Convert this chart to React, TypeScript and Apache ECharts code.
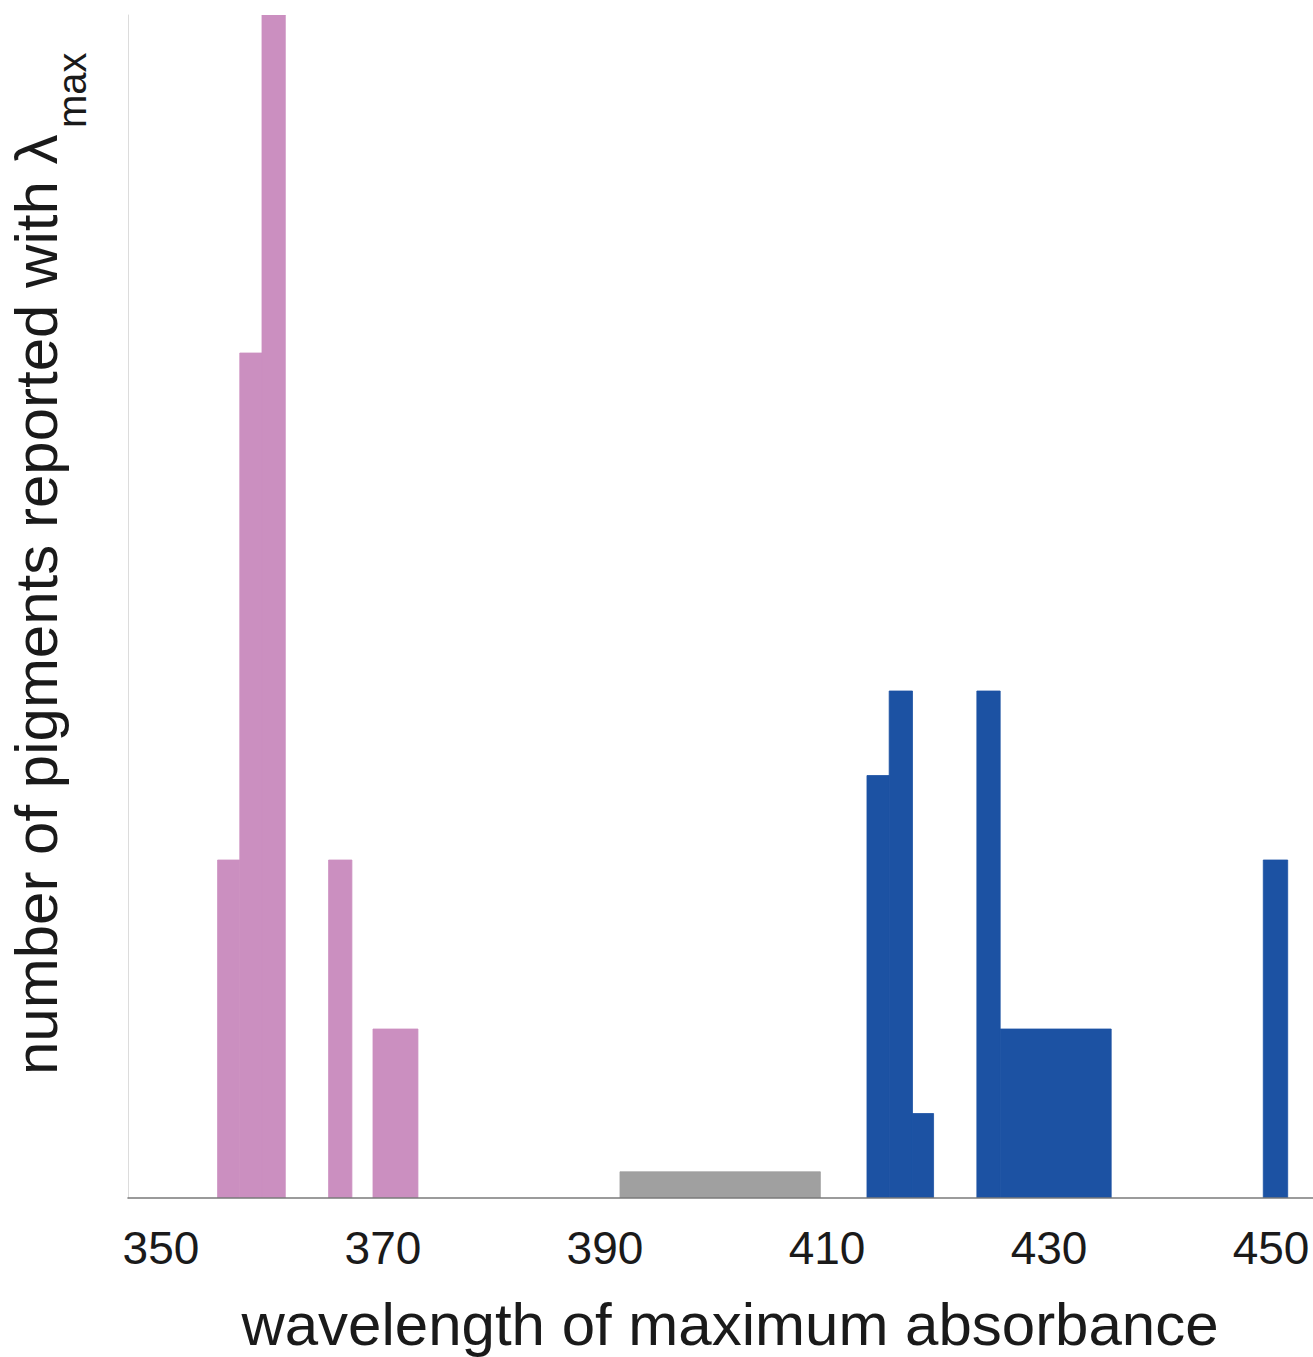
import React, { useEffect, useRef } from "react";
import * as echarts from "echarts";

// [start, end, count]
const uvBins: number[][] = [
  [355.1, 357.1, 4],
  [357.1, 359.1, 10],
  [359.1, 361.2, 14],
  [365.1, 367.2, 4],
  [369.1, 373.15, 2],
];
const gapBins: number[][] = [[391.35, 409.4, 0.31]];
const violetBins: number[][] = [
  [413.6, 415.6, 5],
  [415.6, 417.7, 6],
  [417.7, 419.6, 1],
  [423.5, 425.6, 6],
  [425.6, 435.6, 2],
  [449.3, 451.5, 4],
];
const tickValues = [350, 370, 390, 410, 430, 450];

const FONT = "'Liberation Sans', Arial, Helvetica, sans-serif";

function rectSeries(data: number[][], color: string) {
  return {
    type: "custom",
    data,
    clip: true,
    renderItem: (params: any, api: any) => {
      const x0 = api.value(0);
      const x1 = api.value(1);
      const h = api.value(2);
      const p0 = api.coord([x0, h]);
      const p1 = api.coord([x1, 0]);
      return {
        type: "rect",
        shape: { x: p0[0], y: p0[1], width: p1[0] - p0[0], height: p1[1] - p0[1] },
        style: { fill: color, stroke: color, lineWidth: 0.8 },
      };
    },
    encode: { x: [0, 1], y: 2 },
  };
}

export default function App() {
  const ref = useRef<HTMLDivElement>(null);
  useEffect(() => {
    if (!ref.current) return;
    const chart = echarts.init(ref.current, undefined, { renderer: "svg" });
    chart.setOption({
      animation: false,
      backgroundColor: "#ffffff",
      grid: { left: 128, top: 15, right: 0, bottom: 159, containLabel: false },
      xAxis: {
        type: "value",
        min: 347.03,
        max: 453.78,
        z: 5,
        axisLine: { show: true, onZero: false, lineStyle: { color: "#7a7a7a", width: 1.6 } },
        axisTick: { show: false },
        splitLine: { show: false },
        axisLabel: {
          customValues: tickValues,
          fontSize: 46,
          fontFamily: FONT,
          color: "#1a1a1a",
          margin: 27,
          showMinLabel: true,
          showMaxLabel: true,
        },
      },
      yAxis: {
        type: "value",
        min: 0,
        max: 14,
        axisLine: { show: true, lineStyle: { color: "#dcdcdc", width: 1 } },
        axisTick: { show: false },
        axisLabel: { show: false },
        splitLine: { show: false },
      },
      series: [
        rectSeries(uvBins, "#CB8FC0"),
        rectSeries(gapBins, "#A0A0A0"),
        rectSeries(violetBins, "#1C52A3"),
      ],
      graphic: [
        {
          type: "text",
          x: 730,
          y: 1324,
          style: {
            text: "wavelength of maximum absorbance",
            font: `60px ${FONT}`,
            fill: "#1a1a1a",
            textAlign: "center",
            textVerticalAlign: "middle",
          },
        },
        {
          type: "text",
          x: 36,
          y: 1075,
          rotation: Math.PI / 2,
          style: {
            text: "number of pigments reported with λ",
            font: `60px ${FONT}`,
            fill: "#1a1a1a",
            textAlign: "left",
            textVerticalAlign: "middle",
          },
        },
        {
          type: "text",
          x: 72,
          y: 128,
          rotation: Math.PI / 2,
          style: {
            text: "max",
            font: `40px ${FONT}`,
            fill: "#1a1a1a",
            textAlign: "left",
            textVerticalAlign: "middle",
          },
        },
      ],
    });
    return () => chart.dispose();
  }, []);
  return (
    <div
      ref={ref}
      style={{ position: "fixed", left: 0, top: 0, width: 1313, height: 1357, background: "#fff" }}
    />
  );
}
